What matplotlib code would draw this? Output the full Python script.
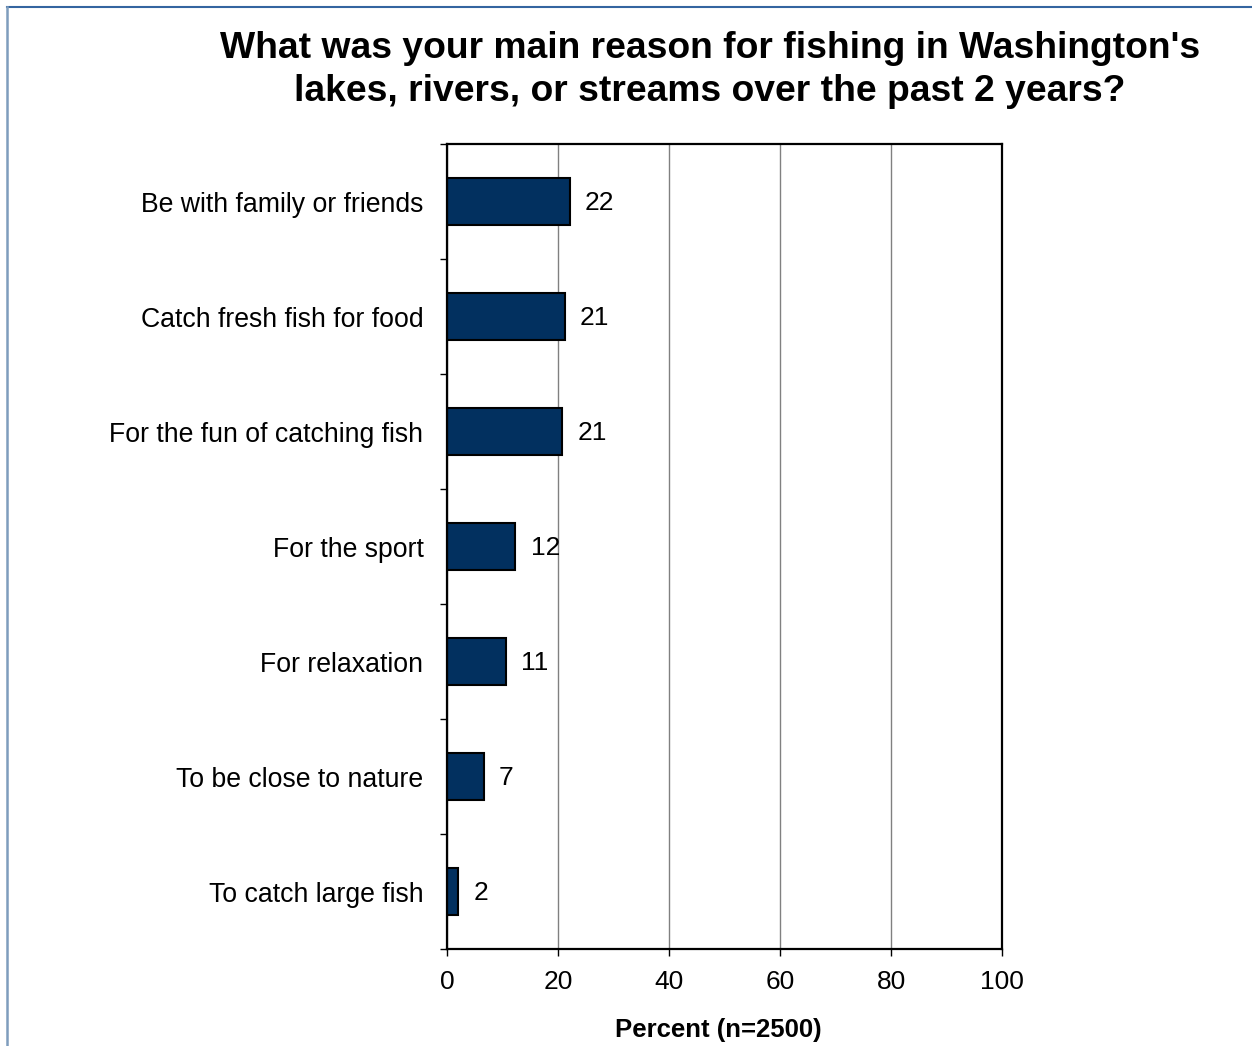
import matplotlib
matplotlib.use("Agg")
from matplotlib import pyplot as plt
from matplotlib.lines import Line2D
import numpy as np

plt.rcParams['font.family'] = ['Liberation Sans', 'DejaVu Sans']

# %% data
reasons = ['Be with family or friends', 'Catch fresh fish for food', 'For the fun of catching fish',
           'For the sport', 'For relaxation', 'To be close to nature', 'To catch large fish']
percent = [22.1, 21.2, 20.7, 12.3, 10.6, 6.6, 2.0]
x_ticks = [0, 20, 40, 60, 80, 100]

# %% plot
W, H = 1252, 1046
fig = plt.figure(figsize=(W / 100, H / 100), dpi=100)
ax = fig.add_axes([447 / W, 1 - 949 / H, (1002 - 447) / W, (949 - 144) / H])

y = np.arange(len(reasons))
ax.barh(y, percent, height=0.405, color='#02305f', edgecolor='black', linewidth=1.5, zorder=3)
for yi, v in zip(y, percent):
    ax.annotate(f"{v:.0f}", xy=(v, yi), xytext=(11, -0.8), textcoords='offset points',
                ha='left', va='center', fontsize=19, zorder=4)

ax.set_xlim(0, 100)
ax.set_ylim(len(reasons) - 0.5, -0.5)
ax.set_xticks(x_ticks)
ax.set_xticklabels([str(t) for t in x_ticks], fontsize=19)
ax.tick_params(axis='x', length=5, width=1, pad=10)

# boundary ticks (major) and label positions (minor)
ax.set_yticks(np.arange(len(reasons) + 1) - 0.5)
ax.set_yticklabels([])
ax.tick_params(axis='y', which='major', length=5, width=1)
ax.set_yticks(y, minor=True)
ax.set_yticklabels(reasons, minor=True, fontsize=19.2)
ax.tick_params(axis='y', which='minor', length=0, pad=17)

ax.grid(axis='x', color='#808080', linewidth=1, zorder=0)
for s in ax.spines.values():
    s.set_linewidth(1.6)
    s.set_color('black')
    s.set_zorder(5)

ax.set_xlabel('Percent (n=2500)', fontsize=18.5, fontweight='bold')
ax.xaxis.set_label_coords((718 - 447) / 555, -(1030 - 949) / 805)
ax.xaxis.label.set_va('center')

fig.text(710 / W, 1 - 70 / H, "What was your main reason for fishing in Washington's\nlakes, rivers, or streams over the past 2 years?",
         ha='center', va='center', fontsize=26.8, fontweight='bold', linespacing=1.3)

# outer frame (top and left edges visible in the reference)
fig.add_artist(Line2D([7 / W, 1], [1 - 6.5 / H, 1 - 6.5 / H], transform=fig.transFigure,
                      color='#3465a0', linewidth=1.5))
fig.add_artist(Line2D([7 / W, 7 / W], [0, 1 - 6.5 / H], transform=fig.transFigure,
                      color='#7f9dbd', linewidth=1.8))

fig.savefig('out.png', dpi=100)
